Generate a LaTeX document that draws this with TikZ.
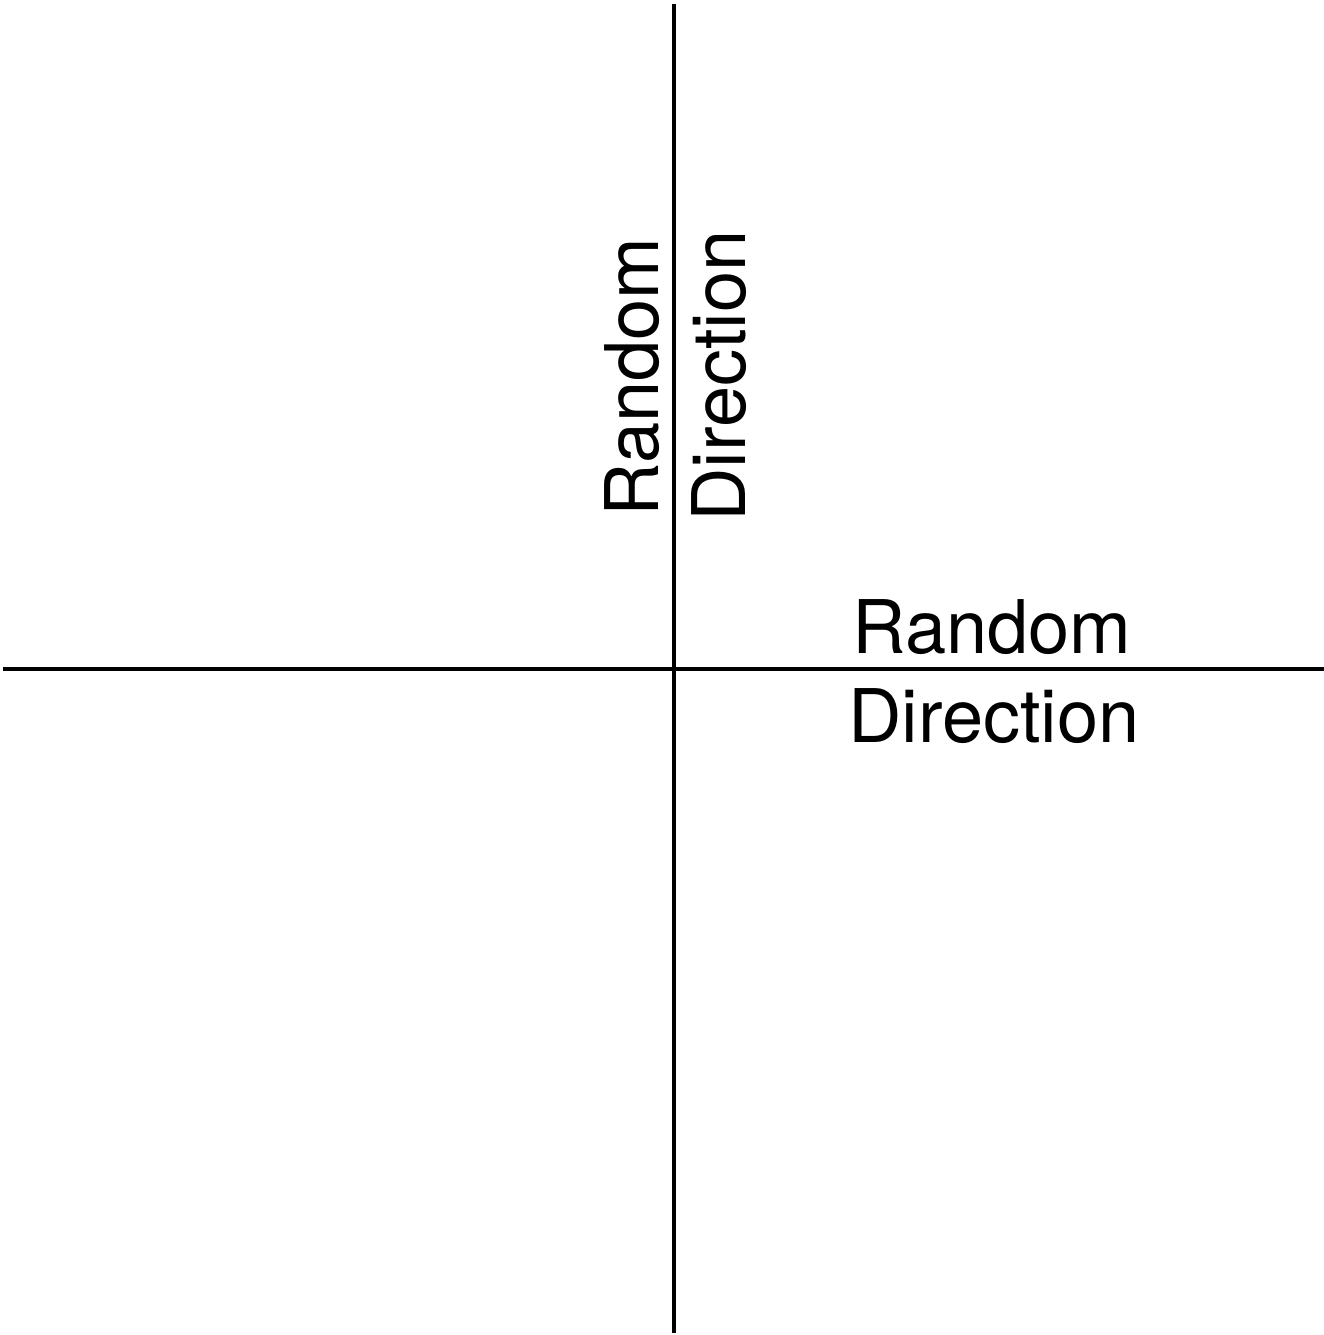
\documentclass[tikz,border=0pt]{standalone}
\usepackage{fontspec}
\setmainfont{TeX Gyre Heros}
\begin{document}
\begin{tikzpicture}[x=1pt,y=-1pt,
  axis/.style={line width=4pt,black},
  lbl/.style={font=\fontsize{74}{89}\selectfont,inner sep=0pt,anchor=base}]
\useasboundingbox (0,0) rectangle (1324,1335);
\coordinate (vtop) at (674,4);
\coordinate (vbot) at (674,1333);
\coordinate (hleft) at (3,669);
\coordinate (hright) at (1324,669);
\draw[axis] (vtop) -- (vbot);
\draw[axis] (hleft) -- (hright);
\node[lbl] (hr) at (992,653) {Random};
\node[lbl] (hd) at (994,742) {Direction};
\node[lbl,rotate=90] (vr) at (658,377) {Random};
\node[lbl,rotate=90] (vd) at (745,376) {Direction};
\end{tikzpicture}
\end{document}
